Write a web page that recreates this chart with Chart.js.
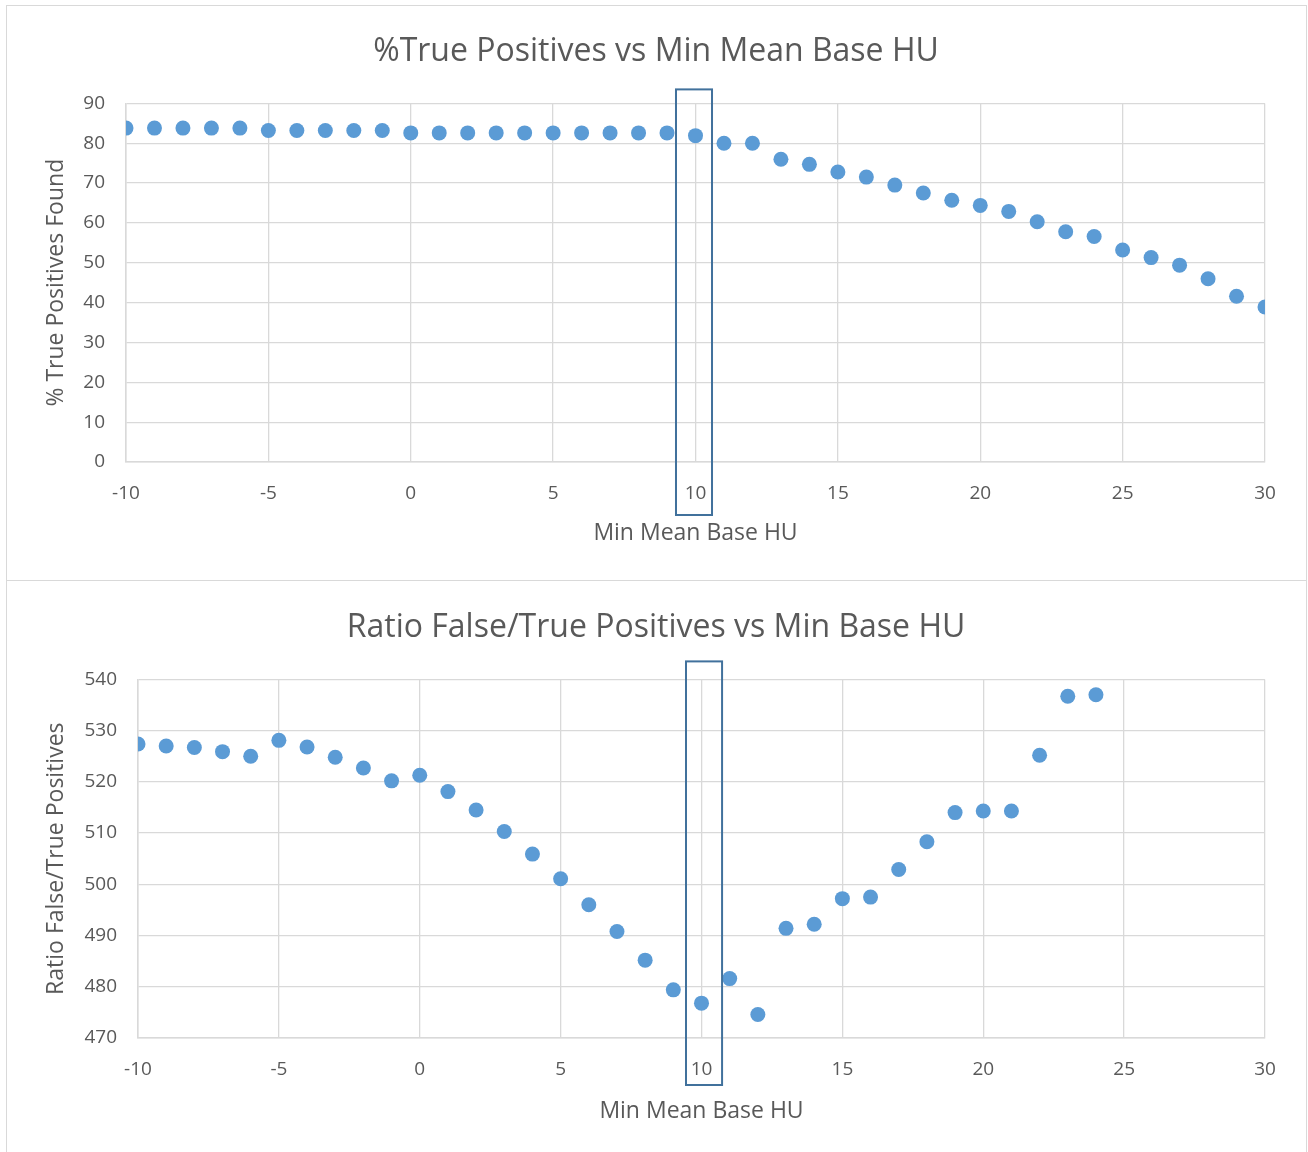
<!DOCTYPE html>
<html>
<head>
<meta charset="utf-8">
<script src="https://cdn.jsdelivr.net/npm/chart.js@4"></script>
<style>
  html, body { margin: 0; padding: 0; background: #fff; overflow: hidden; }
  body { width: 1308px; height: 1152px; position: relative; }
  .panel { position: absolute; box-sizing: border-box; border: 1px solid #d9d9d9; background: #fff; }
  canvas { position: absolute; }
</style>
</head>
<body>
<div class="panel" style="left:6px; top:5px; width:1301px; height:576px;"></div>
<div class="panel" style="left:6px; top:580px; width:1301px; height:580px;"></div>
<canvas id="tp-chart" width="1300" height="575" style="left:6px; top:5px;"></canvas>
<canvas id="ratio-chart" width="1300" height="571" style="left:6px; top:581px;"></canvas>
<script>
// Top chart: % true positives found per min mean base HU
const tpX = [-10, -9, -8, -7, -6, -5, -4, -3, -2, -1, 0, 1, 2, 3, 4, 5, 6, 7, 8, 9, 10,
  11, 12, 13, 14, 15, 16, 17, 18, 19, 20, 21, 22, 23, 24, 25, 26, 27, 28, 29, 30];
const tpY = [83.8, 83.8, 83.8, 83.8, 83.8, 83.2, 83.2, 83.2, 83.2, 83.2, 82.6, 82.6, 82.6, 82.6, 82.6, 82.6, 82.6, 82.6, 82.6, 82.6, 81.9,
  80.0, 80.0, 76.0, 74.7, 72.8, 71.5, 69.5, 67.5, 65.7, 64.4, 62.9, 60.3, 57.8, 56.6, 53.2, 51.3, 49.4, 46.0, 41.6, 38.9];

// Bottom chart: ratio false / true positives
const ratioX = [-10, -9, -8, -7, -6, -5, -4, -3, -2, -1, 0, 1, 2, 3, 4, 5, 6, 7, 8, 9, 10,
  11, 12, 13, 14, 15, 16, 17, 18, 19, 20, 21, 22, 23, 24];
const ratioY = [527.4, 527.0, 526.7, 525.9, 525.0, 528.1, 526.8, 524.8, 522.7, 520.2, 521.3, 518.1, 514.5, 510.3, 505.9, 501.1, 496.0, 490.8, 485.2, 479.4, 476.8,
  481.6, 474.6, 491.4, 492.2, 497.2, 497.5, 502.9, 508.3, 514.0, 514.3, 514.3, 525.2, 536.7, 537.0];

const highlightX = 10;

const FONT = 'Open Sans';
const TEXT = '#595959';
const GRID = '#d9d9d9';
const POINT = '#5b9bd5';

// box drawn round the chosen threshold
const highlightBox = {
  id: 'highlightBox',
  afterDraw(chart, args, opts) {
    const { ctx, chartArea, scales: { x } } = chart;
    const left = x.getPixelForValue(highlightX + opts.from);
    const right = x.getPixelForValue(highlightX + opts.to);
    ctx.save();
    ctx.strokeStyle = '#41719c';
    ctx.lineWidth = 2;
    ctx.strokeRect(left, chartArea.top - opts.above, right - left,
      chartArea.bottom - chartArea.top + opts.above + opts.below);
    ctx.restore();
  }
};

function makeChart(id, xs, ys, cfg) {
  return new Chart(document.getElementById(id), {
    type: 'scatter',
    data: {
      datasets: [{
        data: xs.map((x, i) => ({ x, y: ys[i] })),
        backgroundColor: POINT,
        borderColor: POINT,
        pointRadius: 7.5,
        pointHoverRadius: 7.5,
        borderWidth: 0,
      }],
    },
    options: {
      responsive: false,
      animation: false,
      layout: { padding: 0 },
      scales: {
        x: {
          type: 'linear',
          min: -10, max: 30,
          afterFit: (s) => { s.height = cfg.xHeight; },
          grid: { color: GRID, lineWidth: 1.3, drawTicks: false },
          border: { color: GRID, width: 1.5 },
          ticks: { stepSize: 5, color: TEXT, padding: 20, font: { family: FONT, size: 19 } },
          title: {
            display: true, text: 'Min Mean Base HU', color: TEXT,
            font: { family: FONT, size: 23 }, padding: { top: 0, bottom: cfg.xTitlePad },
          },
        },
        y: {
          min: cfg.yMin, max: cfg.yMax,
          afterFit: (s) => { s.width = cfg.yWidth; },
          grid: { color: GRID, lineWidth: 1.3, drawTicks: false },
          border: { color: GRID, width: 1.5 },
          ticks: { stepSize: 10, color: TEXT, padding: 21, font: { family: FONT, size: 19 } },
          title: {
            display: true, text: cfg.yTitle, color: TEXT,
            font: { family: FONT, size: 23 }, padding: { top: 37, bottom: 0 },
          },
        },
        // empty right-hand gutter so the title centres on the whole panel
        gutter: {
          type: 'linear',
          position: 'right',
          afterFit: (s) => { s.width = 41; },
          grid: { display: false, drawTicks: false },
          border: { display: false },
          ticks: { display: false },
        },
      },
      plugins: {
        legend: { display: false },
        tooltip: { enabled: false },
        title: {
          display: true, text: cfg.title, color: TEXT,
          font: { family: FONT, size: 32, weight: 'normal' },
          padding: { top: 28, bottom: 32 },
        },
        highlightBox: cfg.box,
      },
    },
    plugins: [highlightBox],
  });
}

makeChart('tp-chart', tpX, tpY, {
  title: '%True Positives vs Min Mean Base HU',
  yTitle: '% True Positives Found',
  yMin: 0, yMax: 90,
  yWidth: 120, xHeight: 118, xTitlePad: 33,
  box: { from: -0.685, to: 0.58, above: 14, below: 53 },
});

makeChart('ratio-chart', ratioX, ratioY, {
  title: 'Ratio False/True Positives vs Min Base HU',
  yTitle: 'Ratio False/True Positives',
  yMin: 470, yMax: 540,
  yWidth: 132, xHeight: 114, xTitlePad: 27,
  box: { from: -0.55, to: 0.73, above: 18, below: 47 },
});
</script>
</body>
</html>
